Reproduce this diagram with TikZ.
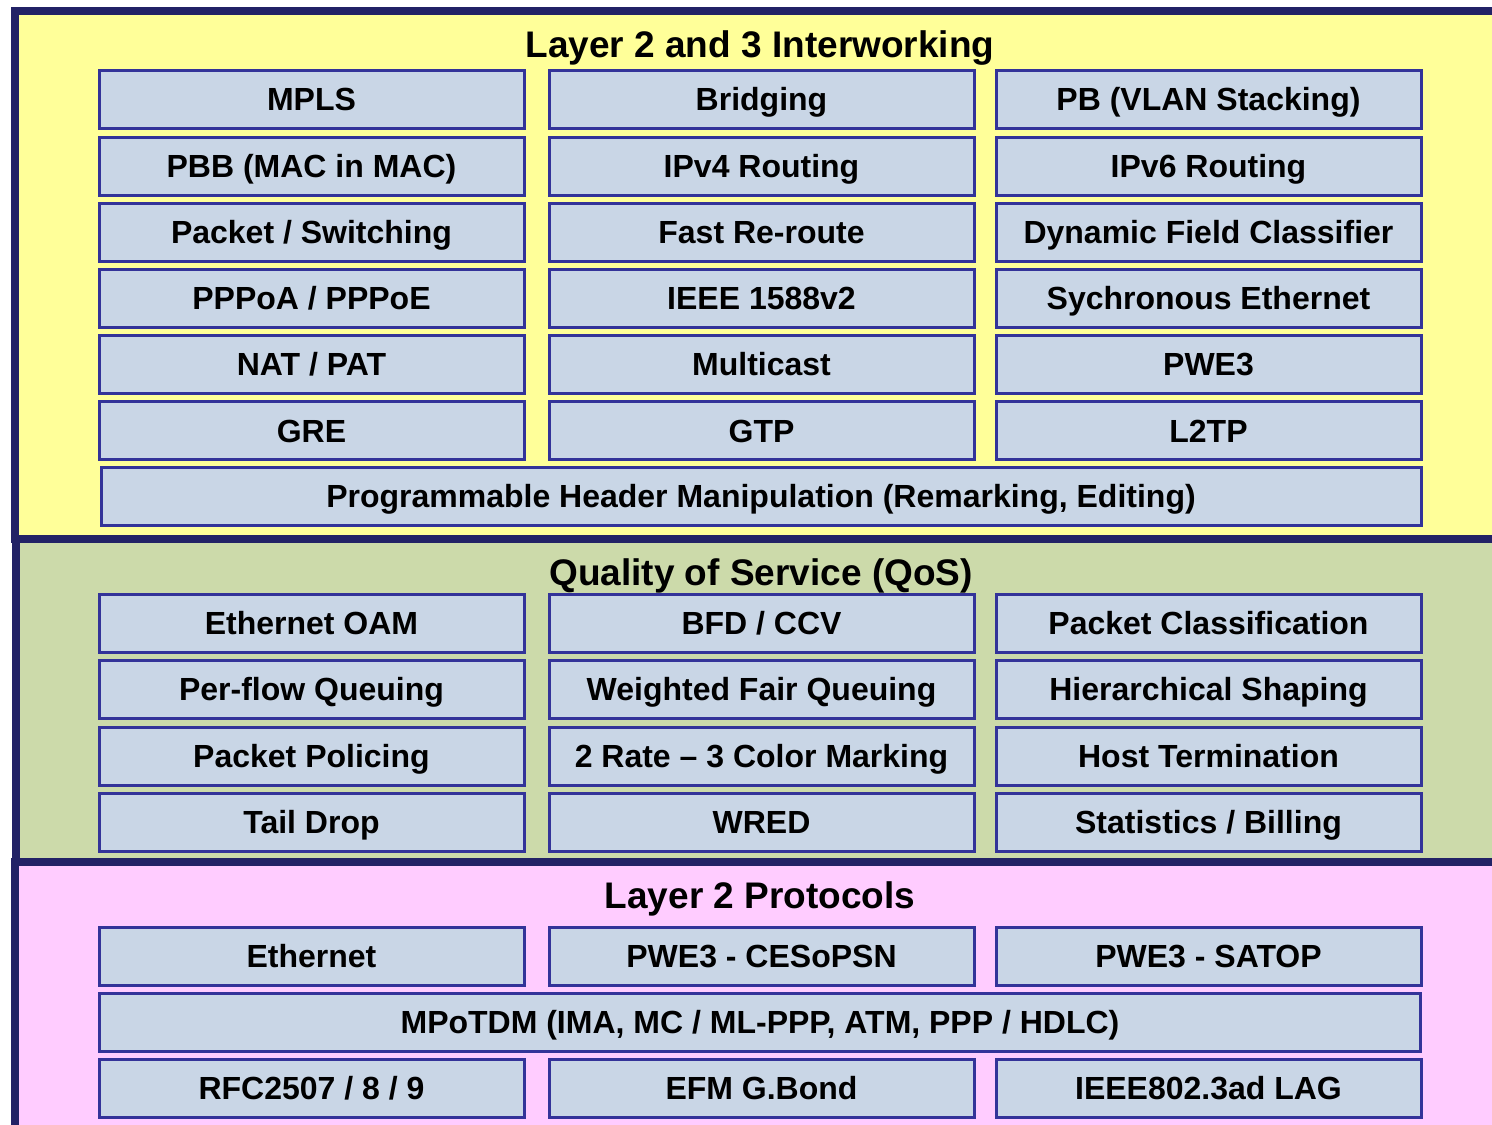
\documentclass[tikz,border=0pt]{standalone}
\usepackage{fontspec}
\setmainfont{Liberation Sans}
\definecolor{panelborder}{HTML}{222266}
\definecolor{yellowbg}{HTML}{FFFF99}
\definecolor{greenbg}{HTML}{CCDAAA}
\definecolor{pinkbg}{HTML}{FFCCFF}
\definecolor{cellfill}{HTML}{C9D6E6}
\definecolor{celldraw}{HTML}{333399}
\begin{document}
\begin{tikzpicture}[x=1pt,y=-1pt,
  panel/.style={draw=panelborder,line width=8pt},
  cell/.style={draw=celldraw,fill=cellfill,line width=3pt,minimum width=425pt,minimum height=58pt,inner sep=0pt,
    text height=27pt,text depth=4pt,
    font=\fontsize{32}{38}\selectfont\bfseries},
  widecell/.style={cell,minimum width=1321pt},
  paneltitle/.style={inner sep=0pt,text height=30pt,text depth=2pt,font=\fontsize{37}{44}\selectfont\bfseries}]
\useasboundingbox (0,0) rectangle (1492,1125);
\begin{scope}
\clip (0,0) rectangle (1492,1125);
\draw[panel,fill=yellowbg] (14.5,11) rectangle (1510,539);
\draw[panel,fill=greenbg] (15.5,539) rectangle (1510,862);
\draw[panel,fill=pinkbg] (14.5,862) rectangle (1510,1140);
\end{scope}
% titles
\node[paneltitle] (t1) at (760,43) {Layer 2 and 3 Interworking};
\node[paneltitle] (t2) at (761,571) {Quality of Service (QoS)};
\node[paneltitle] (t3) at (760,894) {Layer 2 Protocols};
% yellow rows
\node[cell] (a1) at (311.5,99) {MPLS};
\node[cell] (a2) at (761.5,99) {Bridging};
\node[cell] (a3) at (1208.5,99) {PB (VLAN Stacking)};
\node[cell] (b1) at (311.5,166) {PBB (MAC in MAC)};
\node[cell] (b2) at (761.5,166) {IPv4 Routing};
\node[cell] (b3) at (1208.5,166) {IPv6 Routing};
\node[cell] (c1) at (311.5,232) {Packet / Switching};
\node[cell] (c2) at (761.5,232) {Fast Re-route};
\node[cell] (c3) at (1208.5,232) {Dynamic Field Classifier};
\node[cell] (d1) at (311.5,298) {PPPoA / PPPoE};
\node[cell] (d2) at (761.5,298) {IEEE 1588v2};
\node[cell] (d3) at (1208.5,298) {Sychronous Ethernet};
\node[cell] (e1) at (311.5,364) {NAT / PAT};
\node[cell] (e2) at (761.5,364) {Multicast};
\node[cell] (e3) at (1208.5,364) {PWE3};
\node[cell] (f1) at (311.5,430.5) {GRE};
\node[cell] (f2) at (761.5,430.5) {GTP};
\node[cell] (f3) at (1208.5,430.5) {L2TP};
\node[widecell,minimum width=1320pt] (g) at (761,496) {Programmable Header Manipulation (Remarking, Editing)};
% green rows
\node[cell] (h1) at (311.5,623) {Ethernet OAM};
\node[cell] (h2) at (761.5,623) {BFD / CCV};
\node[cell] (h3) at (1208.5,623) {Packet Classification};
\node[cell] (i1) at (311.5,689) {Per-flow Queuing};
\node[cell] (i2) at (761.5,689) {Weighted Fair Queuing};
\node[cell] (i3) at (1208.5,689) {Hierarchical Shaping};
\node[cell] (j1) at (311.5,756) {Packet Policing};
\node[cell] (j2) at (761.5,756) {2 Rate – 3 Color Marking};
\node[cell] (j3) at (1208.5,756) {Host Termination};
\node[cell] (k1) at (311.5,822) {Tail Drop};
\node[cell] (k2) at (761.5,822) {WRED};
\node[cell] (k3) at (1208.5,822) {Statistics / Billing};
% pink rows
\node[cell] (l1) at (311.5,956) {Ethernet};
\node[cell] (l2) at (761.5,956) {PWE3 - CESoPSN};
\node[cell] (l3) at (1208.5,956) {PWE3 - SATOP};
\node[widecell] (m) at (760,1022) {MPoTDM (IMA, MC / ML-PPP, ATM, PPP / HDLC)};
\node[cell] (n1) at (311.5,1088) {RFC2507 / 8 / 9};
\node[cell] (n2) at (761.5,1088) {EFM G.Bond};
\node[cell] (n3) at (1208.5,1088) {IEEE802.3ad LAG};
\end{tikzpicture}
\end{document}
